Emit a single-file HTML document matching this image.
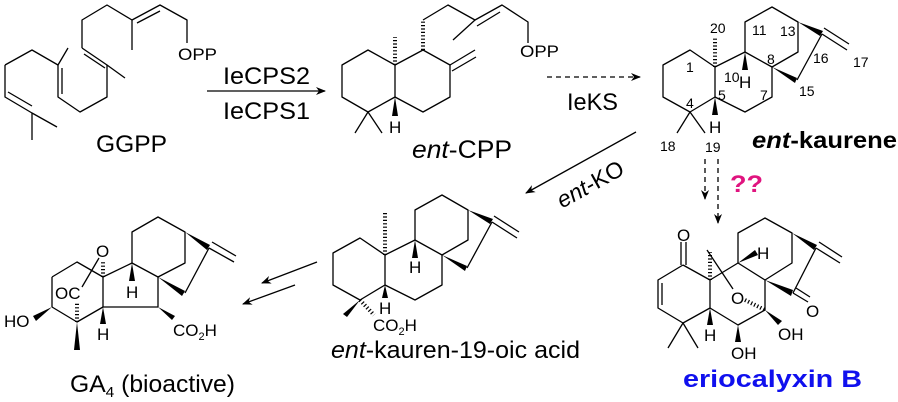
<!DOCTYPE html>
<html><head><meta charset="utf-8"><style>
html,body{margin:0;padding:0;background:#fff;}
svg{display:block;}
text{font-family:"Liberation Sans",Arial,sans-serif;fill:#000;}
.b{stroke:#000;stroke-width:1.3;fill:none;stroke-linejoin:round;}
.h{stroke:#000;stroke-width:4;stroke-dasharray:1.2 2.2;fill:none;}
.d{stroke:#000;stroke-width:1.3;stroke-dasharray:5 4;fill:none;}
.n{font-size:14px;}
.a{font-size:17px;}
</style></head><body>
<svg width="898" height="402" viewBox="0 0 898 402" xmlns="http://www.w3.org/2000/svg">
<defs>
<marker id="ah" markerWidth="10" markerHeight="8" refX="9" refY="4" orient="auto" markerUnits="userSpaceOnUse"><path d="M0,0 L10,4 L0,8 L3,4 Z" fill="#000"/></marker>
</defs>

<!-- GGPP -->
<polyline class="b" points="5,65 5,97 32,113 57,127"/>
<line class="b" x1="8" y1="92" x2="32" y2="106"/>
<line class="b" x1="32" y1="113" x2="32" y2="140"/>
<polyline class="b" points="5,65 32,50 58,65 68,48"/>
<polyline class="b" points="58,65 58,97 80,112 107,97 107,65 125,78"/>
<line class="b" x1="62" y1="68" x2="62" y2="94"/>
<polyline class="b" points="82,48 82,20 107,5 132,20 160,5 187,20 187,43"/>
<line class="b" x1="82" y1="48" x2="107" y2="65"/>
<line class="b" x1="84" y1="54" x2="105" y2="68"/>
<line class="b" x1="132" y1="20" x2="132" y2="50"/>
<line class="b" x1="137" y1="23" x2="160" y2="11"/>
<text x="178" y="60" class="a" textLength="39" lengthAdjust="spacingAndGlyphs">OPP</text>
<text x="96" y="152" font-size="24" textLength="71" lengthAdjust="spacingAndGlyphs">GGPP</text>

<!-- arrow 1 -->
<line class="b" x1="207" y1="91" x2="325" y2="91" marker-end="url(#ah)"/>
<text x="223" y="84" font-size="24" textLength="87" lengthAdjust="spacingAndGlyphs">IeCPS2</text>
<text x="223" y="119" font-size="24" textLength="87" lengthAdjust="spacingAndGlyphs">IeCPS1</text>

<!-- ent-CPP -->
<polygon class="b" points="342,65 368,50 395,65 395,97 368,112 342,97"/>
<polyline class="b" points="395,65 423,50 450,65 450,97 423,112 395,97"/>
<line class="h" x1="395" y1="65" x2="395" y2="37"/>
<line class="h" x1="423" y1="50" x2="423" y2="20"/>
<polyline class="b" points="423,20 448,5 475,20 502,5 528,22 528,43"/>
<line class="b" x1="475" y1="20" x2="453" y2="40"/>
<line class="b" x1="477" y1="26" x2="500" y2="12"/>
<line class="b" x1="450" y1="65" x2="475" y2="50"/>
<line class="b" x1="452" y1="71" x2="476" y2="57"/>
<polygon points="395,97 392,116 398,116" fill="#000"/>
<text x="389" y="133" class="a">H</text>
<line class="b" x1="368" y1="112" x2="355" y2="133"/>
<line class="b" x1="368" y1="112" x2="382" y2="133"/>
<text x="520" y="57" class="a" textLength="39" lengthAdjust="spacingAndGlyphs">OPP</text>
<text x="412" y="158" font-size="25" textLength="100" lengthAdjust="spacingAndGlyphs"><tspan font-style="italic">ent</tspan>-CPP</text>

<!-- IeKS dashed arrow -->
<line class="d" x1="547" y1="77" x2="640" y2="77" marker-end="url(#ah)"/>
<text x="567" y="110" font-size="24" textLength="51" lengthAdjust="spacingAndGlyphs">IeKS</text>

<!-- ent-kaurene skeleton -->
<polygon class="b" points="663,65 690,50 715,67 715,97 690,112 663,97"/>
<polyline class="b" points="715,67 745,52 772,67 772,97 745,112 715,97"/>
<polyline class="b" points="745,52 745,22 772,7 798,22 798,52 772,67"/>
<polygon points="798,22 823,31 820,36" fill="#000"/>
<line class="b" x1="822" y1="34" x2="797" y2="80"/>
<polygon points="772,67 797,78 795,83" fill="#000"/>
<line class="b" x1="822" y1="34" x2="847" y2="50"/>
<line class="b" x1="824" y1="28" x2="849" y2="44"/>
<polygon points="745,52 742,70 748,70" fill="#000"/>
<polygon points="715,97 712,115 718,115" fill="#000"/>
<line class="h" x1="715" y1="67" x2="715" y2="37"/>
<text x="739" y="88" class="a">H</text>
<text x="709" y="133" class="a">H</text>
<line class="b" x1="690" y1="112" x2="677" y2="133"/>
<line class="b" x1="690" y1="112" x2="705" y2="133"/>
<g class="n">
<text x="710" y="33">20</text><text x="752" y="35">11</text><text x="780" y="36">13</text>
<text x="686" y="72">1</text><text x="724" y="82">10</text><text x="767" y="64">8</text>
<text x="813" y="63">16</text><text x="853" y="67">17</text><text x="799" y="96">15</text>
<text x="760" y="100">7</text><text x="718" y="100">5</text><text x="686" y="108">4</text>
<text x="660" y="151">18</text><text x="705" y="152">19</text>
</g>
<text x="752" y="148" font-size="23" font-weight="bold" textLength="145" lengthAdjust="spacingAndGlyphs"><tspan font-style="italic">ent</tspan>-kaurene</text>

<!-- ent-KO arrow -->
<line class="b" x1="636" y1="132" x2="526" y2="193" marker-end="url(#ah)"/>
<text x="594" y="191" font-size="23" transform="rotate(-29 594 191)" text-anchor="middle"><tspan font-style="italic">ent</tspan>-KO</text>

<!-- dashed down arrows -->
<line class="d" x1="705" y1="159" x2="705" y2="199" marker-end="url(#ah)"/>
<line class="d" x1="718" y1="159" x2="718" y2="223" marker-end="url(#ah)"/>
<text x="730" y="192" font-size="24" font-weight="bold" style="fill:#e0147f" textLength="33" lengthAdjust="spacingAndGlyphs">??</text>

<!-- ent-kauren-19-oic acid -->
<g transform="translate(-330,188)">
<polygon class="b" points="663,65 690,50 715,67 715,97 690,112 663,97"/>
<polyline class="b" points="715,67 745,52 772,67 772,97 745,112 715,97"/>
<polyline class="b" points="745,52 745,22 772,7 798,22 798,52 772,67"/>
<polygon points="798,22 823,31 820,36" fill="#000"/>
<line class="b" x1="822" y1="34" x2="797" y2="80"/>
<polygon points="772,67 797,78 795,83" fill="#000"/>
<line class="b" x1="822" y1="34" x2="847" y2="50"/>
<line class="b" x1="824" y1="28" x2="849" y2="44"/>
<polygon points="745,52 742,70 748,70" fill="#000"/>
<polygon points="715,97 712,110 718,110" fill="#000"/>
</g>
<line class="h" x1="385" y1="255" x2="385" y2="213"/>
<text x="409" y="273" class="a">H</text>
<text x="379" y="314" class="a">H</text>
<polygon points="360,300 343,314 347,317" fill="#000"/>
<line class="h" x1="360" y1="300" x2="374" y2="315"/>
<text x="373" y="331" class="a">CO<tspan font-size="11" dy="4">2</tspan><tspan dy="-4">H</tspan></text>
<text x="331" y="358" font-size="24" textLength="249" lengthAdjust="spacingAndGlyphs"><tspan font-style="italic">ent</tspan>-kauren-19-oic acid</text>

<!-- double arrows -->
<line class="b" x1="317" y1="262" x2="262" y2="283" marker-end="url(#ah)"/>
<line class="b" x1="295" y1="285" x2="243" y2="304" marker-end="url(#ah)"/>

<!-- GA4 -->
<polyline class="b" points="52,277 77,262 103,277"/>
<line class="b" x1="52" y1="277" x2="52" y2="307"/>
<polyline class="b" points="52,307 77,322 103,307"/>
<polygon class="b" points="103,307 103,277 132,263 158,277 158,307"/>
<polyline class="b" points="132,263 132,232 158,217 185,232 185,263 158,277"/>
<polygon points="185,232 210,245 207,250" fill="#000"/>
<line class="b" x1="209" y1="248" x2="185" y2="293"/>
<polygon points="158,277 185,291 182,296" fill="#000"/>
<line class="b" x1="209" y1="248" x2="234" y2="262"/>
<line class="b" x1="212" y1="242" x2="236" y2="256"/>
<polygon points="132,263 129,281 135,281" fill="#000"/>
<text x="126" y="298" class="a">H</text>
<polygon points="103,307 100,324 106,324" fill="#000"/>
<text x="97" y="340" class="a">H</text>
<line class="h" x1="103" y1="277" x2="103" y2="260"/>
<text x="96" y="257" class="a">O</text>
<line class="b" x1="82" y1="287" x2="99" y2="258"/>
<line class="h" x1="77" y1="322" x2="77" y2="303"/>
<text x="55" y="299" class="a">OC</text>
<polygon points="52,307 33,316 36,321" fill="#000"/>
<text x="4" y="327" class="a">HO</text>
<polygon points="77,322 74,350 80,350" fill="#000"/>
<polygon points="158,307 172,320 175,316" fill="#000"/>
<text x="173" y="336" class="a">CO<tspan font-size="11" dy="4">2</tspan><tspan dy="-4">H</tspan></text>
<text x="70" y="392" font-size="24" textLength="165" lengthAdjust="spacingAndGlyphs">GA<tspan font-size="15" dy="5">4</tspan><tspan dy="-5"> (bioactive)</tspan></text>

<!-- eriocalyxin B -->
<polyline class="b" points="683,265 658,280 658,308 683,323 710,308 710,280 683,265"/>
<line class="b" x1="662" y1="283" x2="662" y2="305"/>
<line class="b" x1="681" y1="265" x2="681" y2="242"/>
<line class="b" x1="686" y1="265" x2="686" y2="242"/>
<text x="677" y="241" class="a">O</text>
<polyline class="b" points="710,280 738,263 765,280 765,310 738,325 710,308"/>
<polyline class="b" points="738,263 738,233 765,218 792,233 792,263 765,280"/>
<polygon points="792,233 817,245 814,250" fill="#000"/>
<line class="b" x1="816" y1="248" x2="793" y2="293"/>
<polygon points="765,280 793,290 791,296" fill="#000"/>
<line class="b" x1="816" y1="248" x2="840" y2="263"/>
<line class="b" x1="819" y1="242" x2="842" y2="257"/>
<line class="b" x1="793" y1="293" x2="808" y2="302"/>
<line class="b" x1="796" y1="288" x2="810" y2="297"/>
<text x="806" y="317" class="a">O</text>
<polygon points="738,263 755,250 758,255" fill="#000"/>
<text x="757" y="259" class="a">H</text>
<line class="h" x1="710" y1="280" x2="710" y2="252"/>
<line class="b" x1="707" y1="250" x2="733" y2="289"/>
<text x="731" y="304" class="a">O</text>
<line class="h" x1="745" y1="300" x2="765" y2="310"/>
<polygon points="765,310 778,325 782,321" fill="#000"/>
<text x="778" y="340" class="a">OH</text>
<polygon points="738,325 735,342 741,342" fill="#000"/>
<text x="731" y="359" class="a">OH</text>
<polygon points="710,308 707,325 713,325" fill="#000"/>
<text x="704" y="341" class="a">H</text>
<line class="b" x1="683" y1="323" x2="668" y2="348"/>
<line class="b" x1="683" y1="323" x2="698" y2="348"/>
<text x="683" y="387" font-size="24" font-weight="bold" textLength="179" lengthAdjust="spacingAndGlyphs" style="fill:#1010ee">eriocalyxin B</text>
</svg>
</body></html>
